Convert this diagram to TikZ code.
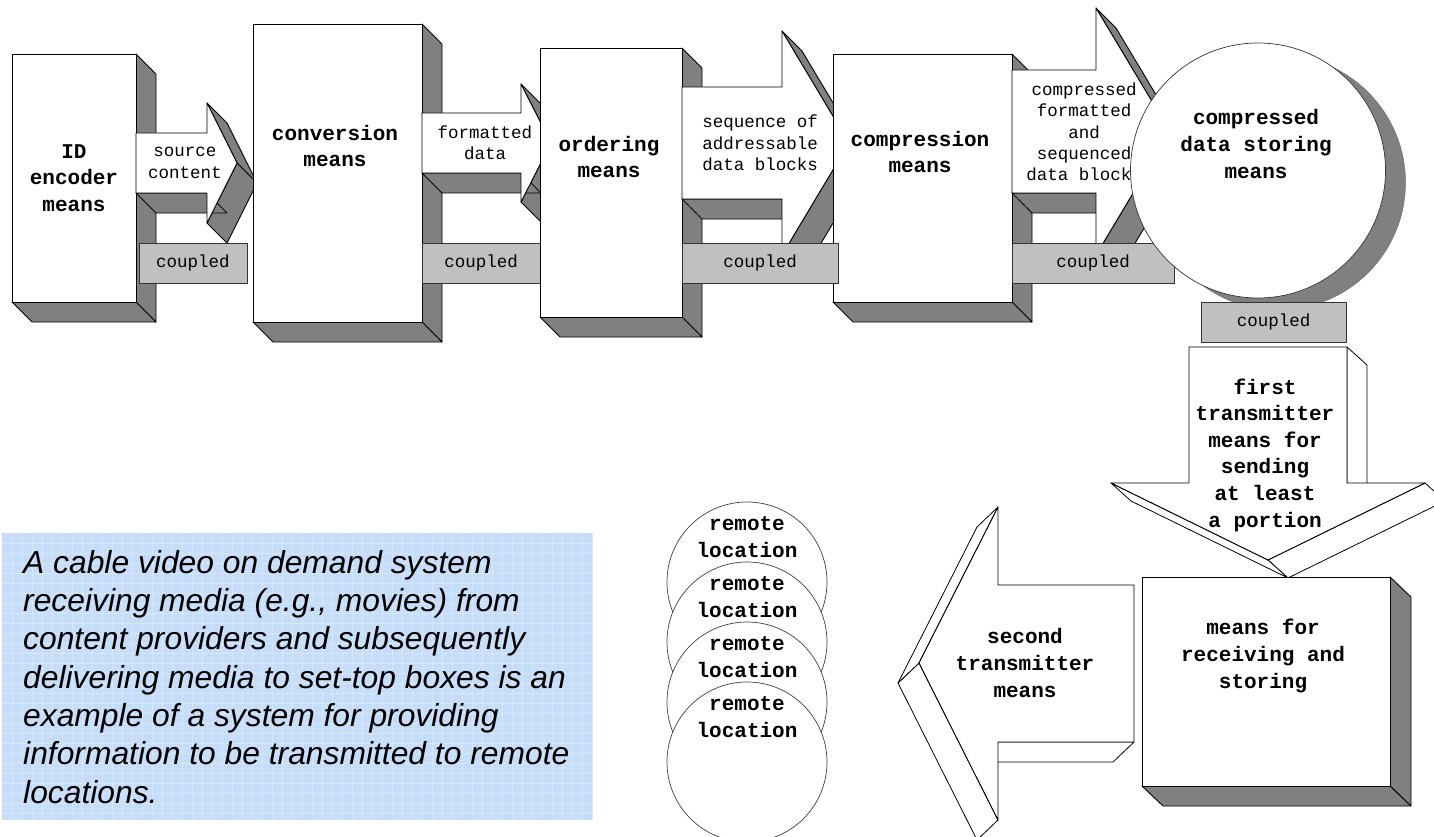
\documentclass[tikz,border=0pt]{standalone}
\usepackage{fontspec}
\setmainfont{Liberation Serif}
\setsansfont{Liberation Sans}
\setmonofont{Liberation Mono}
\usetikzlibrary{calc}

\definecolor{sidegray}{RGB}{128,128,128}
\definecolor{tagfill}{RGB}{192,192,192}
\definecolor{notefill}{RGB}{198,221,249}
\definecolor{notegrid}{RGB}{214,231,252}

\tikzset{
  frontface/.style={fill=white, draw=black, line width=0.9pt, line join=round},
  sideface/.style={fill=sidegray, draw=black, line width=0.9pt, line join=round},
  paleside/.style={fill=white, draw=black, line width=0.8pt, line join=round},
  tag/.style={fill=tagfill, draw=black!80, line width=0.9pt, inner sep=0pt,
    minimum height=40pt, font=\ttfamily\fontsize{17.5}{21}\selectfont},
  boxlabel/.style={font=\ttfamily\bfseries\fontsize{21}{26.6}\selectfont, align=center, inner sep=0pt},
  flowlabel/.style={font=\ttfamily\fontsize{17.5}{21.3}\selectfont, align=center, inner sep=0pt},
  remote/.style={fill=white, draw=black!75, line width=0.7pt},
  note/.style={font=\sffamily\itshape\fontsize{31.8}{38.3}\selectfont, align=left, inner sep=0pt},
}

% one side face of a solid: edge a--b pushed back by offset d
\newcommand{\extrude}[4][sideface]{%
  \filldraw[#1] #2 -- #3 -- ($#3+#4$) -- ($#2+#4$) -- cycle;}

\begin{document}
\begin{tikzpicture}[x=1pt, y=-1pt]
\useasboundingbox (0,0) rectangle (1434,837);

% ID encoder means
\extrude{(136,54)}{(136,302)}{(20,20)}
\extrude{(12,302)}{(136,302)}{(20,20)}
\draw[frontface] (12,54) rectangle (136,302);
\node[boxlabel] (idenc) at (74,178) {ID\\encoder\\means};

% source content
\extrude{(207,103)}{(237,163)}{(20,20)}
\extrude{(237,163)}{(207,223)}{(20,20)}
\extrude{(136,193)}{(207,193)}{(20,20)}
\draw[frontface] (136,133) -- (207,133) -- (207,103) -- (237,163) -- (207,223) -- (207,193) -- (136,193) -- cycle;
\node[flowlabel] (srcflow) at (185,163) {source\\content};
\node[tag, minimum width=108pt] (cpl1) at (193,263) {coupled};

% conversion means
\extrude{(422,24)}{(422,322)}{(20,20)}
\extrude{(253,322)}{(422,322)}{(20,20)}
\draw[frontface] (253,24) rectangle (422,322);
\node[boxlabel] (conv) at (335,146) {conversion\\means};

% formatted data
\extrude{(521,84)}{(551,143)}{(20,20)}
\extrude{(551,143)}{(521,202)}{(20,20)}
\extrude{(422,173)}{(521,173)}{(20,20)}
\draw[frontface] (422,113) -- (521,113) -- (521,84) -- (551,143) -- (521,202) -- (521,173) -- (422,173) -- cycle;
\node[flowlabel] (fmtflow) at (485,143) {formatted\\data};
\node[tag, minimum width=118pt] (cpl2) at (481,263) {coupled};

% ordering means
\extrude{(682,48)}{(682,317)}{(20,20)}
\extrude{(540,317)}{(682,317)}{(20,20)}
\draw[frontface] (540,48) rectangle (682,317);
\node[boxlabel] (order) at (609,157) {ordering\\means};

% sequence of addressable data blocks
\extrude{(782,31)}{(849,143)}{(20,20)}
\extrude{(849,143)}{(782,255)}{(20,20)}
\extrude{(682,199)}{(782,199)}{(20,20)}
\draw[frontface] (682,87) -- (782,87) -- (782,31) -- (849,143) -- (782,255) -- (782,199) -- (682,199) -- cycle;
\node[flowlabel] (seqflow) at (760,143) {sequence of\\addressable\\data blocks};

% compression means
\extrude{(1012,54)}{(1012,302)}{(20,20)}
\extrude{(833,302)}{(1012,302)}{(20,20)}
\draw[frontface] (833,54) rectangle (1012,302);
\node[boxlabel] (compr) at (920,152) {compression\\means};
\node[tag, minimum width=156pt] (cpl3) at (760,263) {coupled};

% compressed formatted and sequenced data blocks
\extrude{(1096,8)}{(1170,131.5)}{(20,20)}
\extrude{(1170,131.5)}{(1096,255)}{(20,20)}
\extrude{(1012,193)}{(1096,193)}{(20,20)}
\draw[frontface] (1012,70) -- (1096,70) -- (1096,8) -- (1170,131.5) -- (1096,255) -- (1096,193) -- (1012,193) -- cycle;
\node[flowlabel] (cmpflow) at (1084,132) {compressed\\formatted\\and\\sequenced\\data blocks};
\node[tag, minimum width=162pt] (cpl4) at (1093,263) {coupled};

% compressed data storing means
\filldraw[fill=sidegray, draw=black!55, line width=0.5pt] (1278,182.5) circle (127.5);
\filldraw[fill=white, draw=black!80, line width=0.7pt] (1258,170.5) circle (127.5);
\node[boxlabel] (store) at (1256,144) {compressed\\data storing\\means};
\node[tag, minimum width=145pt] (cpl5) at (1273.5,322) {coupled};

% first transmitter means
\extrude[paleside]{(1347,347)}{(1347,483)}{(20,18)}
\extrude[paleside]{(1425,483)}{(1268,560)}{(20,18)}
\extrude[paleside]{(1268,560)}{(1111,483)}{(20,18)}
\draw[frontface] (1189,347) -- (1347,347) -- (1347,483) -- (1425,483) -- (1268,560) -- (1111,483) -- (1189,483) -- cycle;
\node[boxlabel] (firsttx) at (1265,455) {first\\transmitter\\means for\\sending\\at least\\a portion};

% means for receiving and storing
\extrude{(1390,577)}{(1390,786)}{(21,20)}
\extrude{(1142,786)}{(1390,786)}{(21,20)}
\draw[frontface] (1142,577) rectangle (1390,786);
\node[boxlabel] (recv) at (1263,656) {means for\\receiving and\\storing};

% second transmitter means
\extrude[paleside]{(1134,742)}{(998,742)}{(-21,20)}
\extrude[paleside]{(998,820)}{(919,663)}{(-21,20)}
\extrude[paleside]{(919,663)}{(998,507)}{(-21,20)}
\draw[frontface] (1134,585) -- (1134,742) -- (998,742) -- (998,820) -- (919,663) -- (998,507) -- (998,585) -- cycle;
\node[boxlabel] (secondtx) at (1025,663) {second\\transmitter\\means};

% remote locations
\filldraw[remote] (747,582) circle (80);
\node[boxlabel] (remote1) at (747,537) {remote\\location};
\filldraw[remote] (747,642) circle (80);
\node[boxlabel] (remote2) at (747,597) {remote\\location};
\filldraw[remote] (747,702) circle (80);
\node[boxlabel] (remote3) at (747,657) {remote\\location};
\filldraw[remote] (747,762) circle (80);
\node[boxlabel] (remote4) at (747,717) {remote\\location};

% explanatory note
\fill[notefill] (2,533) rectangle (593,820);
\foreach \gx in {12,22,...,592} \draw[notegrid, line width=0.6pt] (\gx,533) -- (\gx,820);
\foreach \gy in {543,553,...,813} \draw[notegrid, line width=0.6pt] (2,\gy) -- (593,\gy);
\node[note, anchor=north west] (notetext) at (23,550) {A cable video on demand system\\receiving media (e.g., movies) from\\content providers and subsequently\\delivering media to set-top boxes is an\\example of a system for providing\\information to be transmitted to remote\\locations.};

\end{tikzpicture}
\end{document}
